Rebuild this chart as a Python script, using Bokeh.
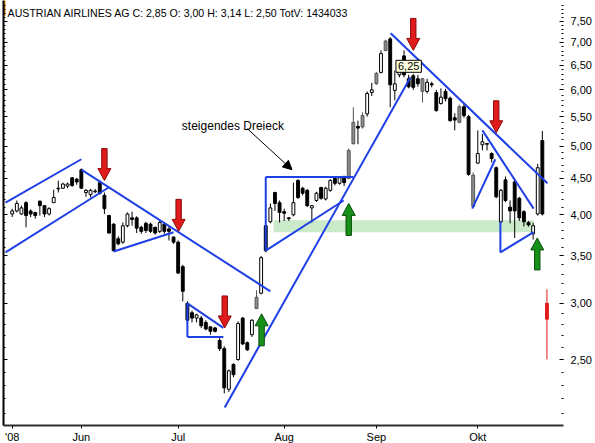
import math

from bokeh.embed import file_html
from bokeh.models import (Arrow, ColumnDataSource, CustomJSTickFormatter,
                          FixedTicker, Label, LogAxis, NormalHead, Range1d)
from bokeh.plotting import figure
from bokeh.resources import INLINE

# ---- daily quotes, Austrian Airlines, May - Oct 2008 (one entry per trading day)
kind = ["w", "w", "w", "b", "b", "b", "b", "b", "w", "w",
        "w", "w", "w", "b", "b", "b", "w", "w", "w", "b",
        "b", "b", "b", "b", "w", "w", "b", "b", "b", "b",
        "b", "b", "w", "b", "b", "b", "b", "b", "b", "b",
        "w", "b", "b", "b", "b", "b", "b", "w", "b", "w",
        "b", "b", "w", "g", "w", "b", "w", "b", "b", "b",
        "b", "w", "b", "b", "b", "w", "w", "b", "w", "w",
        "b", "w", "b", "g", "g", "b", "g", "w", "w", "g",
        "w", "g", "b", "w", "w", "b", "b", "b", "b", "g",
        "w", "b", "b", "w", "b", "b", "b", "g", "b", "b",
        "g", "w", "w", "b", "b", "b", "w", "b", "b", "b",
        "b", "b", "b", "w", "w", "b", "r"]
open_ = [4.01, 4.05, 4.01, 4.16, 4.05, 4.03, 4.18, 4.12, 4.01, 4.16,
         4.35, 4.36, 4.39, 4.51, 4.49, 4.63, 4.30, 4.27, 4.31, 4.44,
         4.26, 3.99, 3.88, 3.70, 3.66, 3.86, 3.96, 3.96, 3.84, 3.89,
         3.88, 3.84, 3.79, 3.88, 3.82, 3.72, 3.66, 3.38, 3.00, 2.91,
         2.86, 2.86, 2.82, 2.78, 2.77, 2.66, 2.59, 2.27, 2.46, 2.50,
         2.86, 2.64, 2.71, 2.95, 3.10, 3.86, 3.91, 4.30, 4.16, 4.04,
         3.96, 4.00, 4.47, 4.36, 4.33, 4.09, 4.19, 4.37, 4.21, 4.33,
         4.50, 4.43, 4.53, 4.50, 5.04, 5.33, 5.32, 5.55, 5.95, 6.12,
         6.35, 6.82, 7.08, 5.99, 6.30, 6.70, 6.22, 6.28, 6.22, 5.97,
         5.97, 6.12, 5.95, 5.74, 5.97, 5.84, 5.48, 5.40, 5.68, 5.50,
         4.11, 4.73, 5.02, 5.04, 4.88, 4.66, 3.91, 4.48, 4.10, 4.45,
         4.22, 4.04, 3.90, 3.76, 4.01, 5.09, 3.00]
high = [4.08, 4.19, 4.12, 4.18, 4.07, 4.04, 4.19, 4.12, 4.10, 4.34,
        4.47, 4.44, 4.44, 4.52, 4.51, 4.65, 4.35, 4.35, 4.35, 4.47,
        4.30, 4.00, 3.89, 3.73, 3.90, 4.03, 4.04, 3.98, 3.86, 3.91,
        3.90, 3.85, 3.92, 3.89, 3.85, 3.73, 3.68, 3.40, 3.02, 2.93,
        2.90, 2.88, 2.84, 2.78, 2.78, 2.68, 2.61, 2.42, 2.47, 2.83,
        2.87, 2.65, 2.85, 3.13, 3.50, 3.87, 4.15, 4.31, 4.19, 4.08,
        3.97, 4.44, 4.49, 4.38, 4.35, 4.13, 4.31, 4.38, 4.38, 4.49,
        4.52, 4.53, 4.54, 4.96, 5.67, 5.43, 5.58, 5.97, 6.14, 6.36,
        6.82, 7.06, 7.12, 6.39, 6.50, 6.82, 6.30, 6.32, 6.30, 6.24,
        6.22, 6.16, 6.00, 6.03, 6.02, 5.87, 5.56, 5.72, 5.74, 5.53,
        4.59, 5.26, 5.20, 5.05, 4.90, 4.68, 4.35, 4.53, 4.19, 4.50,
        4.24, 4.06, 3.92, 3.90, 4.72, 5.25, 3.14]
low = [3.97, 4.03, 4.00, 3.84, 3.97, 3.95, 3.99, 3.97, 3.99, 4.16,
       4.30, 4.35, 4.36, 4.38, 4.41, 4.35, 4.24, 4.23, 4.29, 4.27,
       4.01, 3.76, 3.55, 3.62, 3.64, 3.84, 3.86, 3.77, 3.76, 3.77,
       3.77, 3.75, 3.77, 3.76, 3.68, 3.64, 3.30, 3.02, 2.82, 2.82,
       2.82, 2.77, 2.75, 2.71, 2.73, 2.57, 2.24, 2.25, 2.36, 2.49,
       2.62, 2.57, 2.69, 2.95, 3.09, 3.54, 3.89, 4.05, 3.90, 3.92,
       3.92, 3.98, 4.21, 4.26, 4.10, 3.90, 4.17, 4.20, 4.19, 4.31,
       4.40, 4.41, 4.39, 4.49, 5.02, 5.03, 5.29, 5.50, 5.88, 6.10,
       6.33, 6.80, 5.67, 5.80, 6.25, 6.25, 6.03, 6.00, 6.06, 5.76,
       5.93, 6.05, 5.59, 5.72, 5.78, 5.41, 5.26, 5.38, 5.48, 4.54,
       4.10, 4.72, 4.93, 4.93, 4.74, 4.22, 3.89, 4.17, 3.89, 3.71,
       3.92, 3.85, 3.85, 3.69, 3.99, 3.99, 2.50]
close = [4.05, 4.15, 4.09, 3.99, 4.01, 3.99, 4.12, 4.01, 4.08, 4.23,
         4.36, 4.42, 4.42, 4.40, 4.45, 4.36, 4.33, 4.33, 4.32, 4.29,
         4.08, 3.77, 3.56, 3.64, 3.86, 4.01, 3.94, 3.83, 3.79, 3.80,
         3.79, 3.77, 3.90, 3.79, 3.79, 3.66, 3.31, 3.12, 2.84, 2.86,
         2.89, 2.79, 2.76, 2.74, 2.74, 2.59, 2.28, 2.41, 2.38, 2.81,
         2.63, 2.58, 2.84, 3.06, 3.48, 3.56, 4.09, 4.15, 4.03, 4.02,
         3.95, 4.16, 4.23, 4.29, 4.12, 4.12, 4.29, 4.22, 4.36, 4.47,
         4.43, 4.51, 4.44, 4.93, 5.40, 5.30, 5.52, 5.93, 6.00, 6.33,
         6.75, 7.03, 6.10, 6.12, 6.45, 6.30, 6.06, 6.05, 6.12, 6.22,
         6.15, 6.10, 5.61, 5.86, 5.83, 5.43, 5.44, 5.68, 5.52, 4.56,
         4.55, 4.88, 5.07, 5.03, 4.80, 4.24, 4.33, 4.19, 4.05, 4.05,
         3.96, 3.91, 3.87, 3.86, 4.66, 4.01, 2.85]

# month boundaries (trading-day index) and their labels
month_ticks = [0, 15, 36, 59, 79, 101]
month_labels = ["'08", "Jun", "Jul", "Aug", "Sep", "Okt"]
price_ticks = [2.5, 3.0, 3.5, 4.0, 4.5, 5.0, 5.5, 6.0, 6.5, 7.0, 7.5]
price_minor = [round(2.1 + 0.1 * k, 1) for k in range(59)]

# hand-drawn analysis: trend lines as (day0, price0, day1, price1)
trend_lines = [
    (-1.45, 4.16, 15.0, 4.79),   # May channel, upper
    (-1.45, 3.54, 20.9, 4.37),   # May channel, lower
    (15.0, 4.63, 56.0, 3.12),    # June/July downtrend
    (22.0, 3.55, 35.0, 3.78),    # June triangle base
    (38.0, 3.00, 38.0, 2.69),    # July triangle side
    (38.0, 3.00, 45.8, 2.77),    # July triangle top
    (38.0, 2.69, 45.8, 2.69),    # July triangle base
    (46.1, 2.14, 86.4, 6.25),    # July-Sept uptrend
    (55.0, 4.52, 74.0, 4.52),    # ascending triangle, resistance
    (55.0, 4.52, 55.0, 3.56),    # ascending triangle, side
    (55.0, 3.56, 71.9, 4.19),    # ascending triangle, support
    (82.1, 7.21, 116.1, 4.43),   # Sept-Oct downtrend
    (102.0, 5.26, 113.1, 4.08),  # October down line
    (99.8, 4.08, 104.8, 4.79),   # October flag
    (105.9, 3.91, 105.9, 3.54),  # October triangle side
    (105.9, 3.54, 113.1, 3.78),  # October triangle base
]
uptrend_end = (86.4, 6.25)

# sell / buy signals: (day, price at arrow tip)
sell_signals = [(20.0, 4.47), (36.1, 3.79), (46.1, 2.77), (87.0, 6.82), (105.0, 5.22)]
buy_signals = [(54.1, 2.90), (73.0, 4.15), (113.9, 3.71)]

# support zone
zone_days = (56.7, 113.1)
zone_prices = (3.78, 3.93)

legend_text = "AUSTRIAN AIRLINES AG C: 2,85 O: 3,00 H: 3,14 L: 2,50 TotV: 1434033"

# ---- figure ----------------------------------------------------------------
X_START, X_END = -1.89, 119.59
Y_START, Y_END = 2.018, 8.02
FRAME_W, FRAME_H = 560, 425
PX_DAY = FRAME_W / (X_END - X_START)
PX_LOG = FRAME_H / math.log(Y_END / Y_START)

p = figure(frame_width=FRAME_W, frame_height=FRAME_H,
           x_range=Range1d(X_START, X_END), y_range=Range1d(Y_START, Y_END),
           y_axis_type="log", y_axis_location="right",
           output_backend="svg", toolbar_location=None,
           min_border_left=3, min_border_right=32, min_border_top=0, min_border_bottom=18)
p.xgrid.visible = False
p.ygrid.visible = False
p.outline_line_color = None
p.background_fill_color = "white"
p.border_fill_color = "white"

AXIS_FONT = "Liberation Sans"

yax = p.yaxis[0]
yax.ticker = FixedTicker(ticks=price_ticks, minor_ticks=price_minor)
yax.formatter = CustomJSTickFormatter(code="return tick.toFixed(2).replace('.', ',');")
yax.axis_line_color = None
yax.major_tick_in = 4
yax.major_tick_out = 0
yax.minor_tick_in = 2
yax.minor_tick_out = 0
yax.major_tick_line_color = "black"
yax.minor_tick_line_color = "black"
yax.major_label_standoff = 7
yax.major_label_text_font = AXIS_FONT
yax.major_label_text_font_size = "11px"
yax.major_label_text_color = "black"

left_ax = LogAxis(ticker=FixedTicker(ticks=price_ticks, minor_ticks=price_minor),
                  formatter=CustomJSTickFormatter(code="return '';"),
                  major_label_text_font_size="1px", major_label_standoff=0,
                  major_tick_in=4, major_tick_out=0, minor_tick_in=2, minor_tick_out=0,
                  axis_line_color="black", axis_line_width=2)
p.add_layout(left_ax, "left")

xax = p.xaxis[0]
xax.ticker = FixedTicker(ticks=month_ticks)
xax.major_label_overrides = dict(zip(month_ticks, month_labels))
xax.axis_line_color = "#303030"
xax.axis_line_width = 2
xax.major_tick_in = 0
xax.major_tick_out = 3
xax.minor_tick_line_color = None
xax.major_label_standoff = 2
xax.major_label_text_font = AXIS_FONT
xax.major_label_text_font_size = "11px"
xax.major_label_text_color = "black"

# support zone behind the candles
p.quad(left=[zone_days[0]], right=[zone_days[1]], bottom=[zone_prices[0]], top=[zone_prices[1]],
       fill_color="#c4e8c4", fill_alpha=0.9, line_color=None)

# candles grouped by colour
styles = {
    "b": ("black", "black", "black"),
    "w": ("white", "black", "black"),
    "g": ("#8c8c8c", "#555555", "#555555"),
    "r": ("#e31b1b", "#e31b1b", "#e31b1b"),
}
for k, (fill, edge, wick) in styles.items():
    idx = [i for i, c in enumerate(kind) if c == k]
    src = ColumnDataSource(dict(
        x=idx,
        hi=[high[i] for i in idx],
        lo=[low[i] for i in idx],
        top=[max(open_[i], close[i]) for i in idx],
        bottom=[min(open_[i], close[i]) for i in idx],
    ))
    p.segment(x0="x", y0="hi", x1="x", y1="lo", source=src, line_color=wick, line_width=1)
    p.vbar(x="x", width=0.62, top="top", bottom="bottom", source=src,
           fill_color=fill, line_color=edge, line_width=1)

# trend lines
p.segment(x0=[t[0] for t in trend_lines], y0=[t[1] for t in trend_lines],
          x1=[t[2] for t in trend_lines], y1=[t[3] for t in trend_lines],
          line_color="#1f40e6", line_width=2)


def block_arrow(day, tip, down):
    """Block arrow polygon, sized in screen pixels, tip at (day, tip)."""
    shape = [(0, 0), (6.5, 12), (2.7, 12), (2.7, 32), (-2.7, 32), (-2.7, 12), (-6.5, 12)]
    sign = 1 if down else -1
    xs = [day + dx / PX_DAY for dx, dy in shape]
    ys = [tip * math.exp(sign * dy / PX_LOG) for dx, dy in shape]
    return xs, ys


sell = [block_arrow(d, t, True) for d, t in sell_signals]
buy = [block_arrow(d, t, False) for d, t in buy_signals]
p.patches(xs=[a[0] for a in sell], ys=[a[1] for a in sell],
          fill_color="#e01b1b", line_color="#8a0c0c", line_width=1)
p.patches(xs=[a[0] for a in buy], ys=[a[1] for a in buy],
          fill_color="#17901a", line_color="#0b4d0d", line_width=1)

# price tag at the end of the uptrend
p.add_layout(Label(x=uptrend_end[0] - 0.4, y=uptrend_end[1], text="6,25",
                   text_align="center", text_baseline="bottom", y_offset=5,
                   text_font=AXIS_FONT, text_font_size="11px", text_color="black",
                   background_fill_color="#ffffe1", border_line_color="black",
                   border_line_width=1, padding=2))

# pattern annotation with leader arrow
p.add_layout(Label(x=36.8, y=5.34, text="steigendes Dreieck", text_baseline="alphabetic",
                   text_font=AXIS_FONT, text_font_size="12px", text_color="black"))
p.add_layout(Arrow(end=NormalHead(size=9, fill_color="black", line_color="black"),
                   x_start=51.0, y_start=5.29, x_end=60.7, y_end=4.63,
                   line_color="black", line_width=1))

# header line with the last quote
p.quad(left=[X_START], right=[-1.45], bottom=[7.64], top=[Y_END],
       fill_color="#f28a00", line_color=None)
p.add_layout(Label(x=-1.0, y=7.69, text=legend_text, text_baseline="alphabetic",
                   text_font=AXIS_FONT, text_font_size="10.6px", text_color="black"))

open("out.html", "w").write(file_html(p, INLINE))
